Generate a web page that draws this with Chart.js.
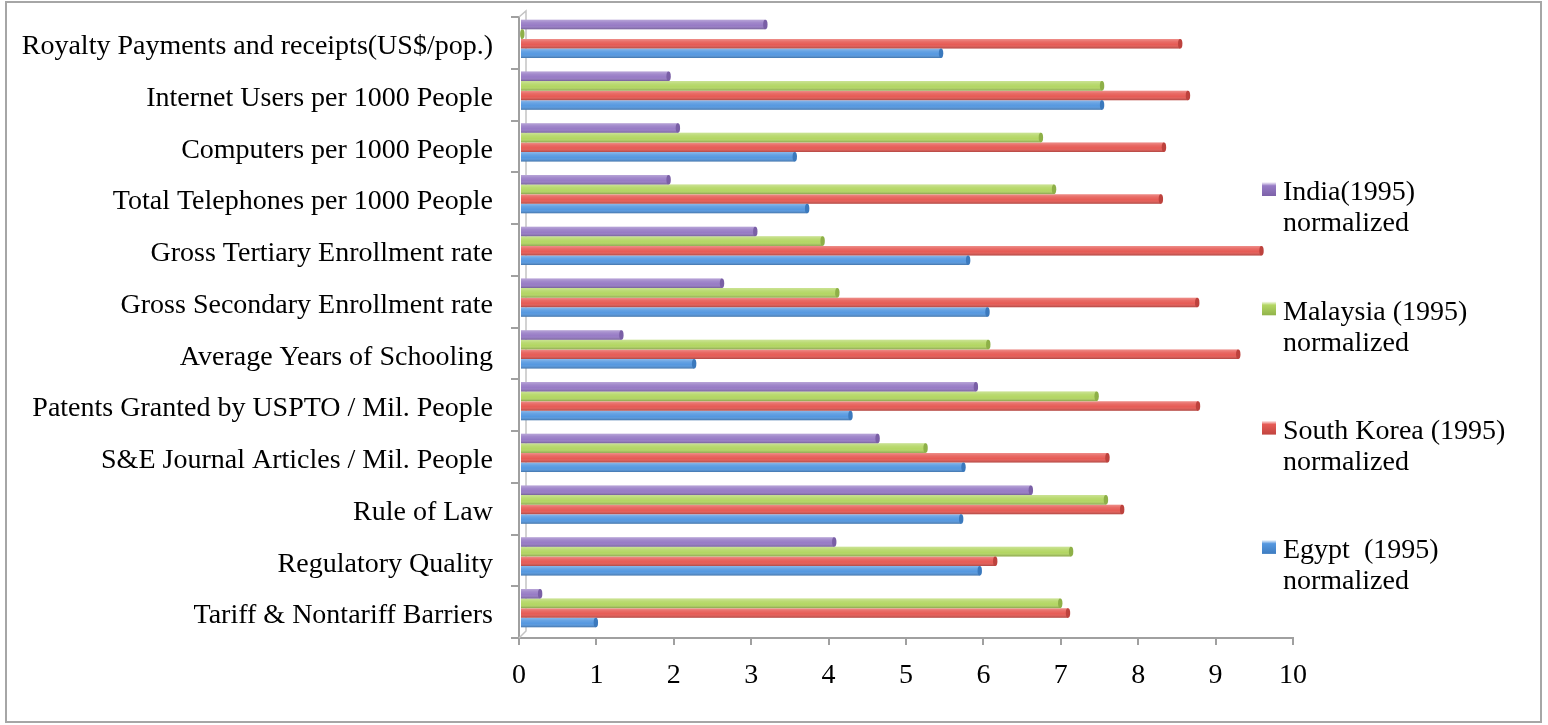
<!DOCTYPE html>
<html>
<head>
<meta charset="utf-8">
<script src="https://cdn.jsdelivr.net/npm/chart.js@4.4.1/dist/chart.umd.min.js"></script>
<style>
  html, body { margin: 0; padding: 0; background: #ffffff; }
  #wrap { position: relative; width: 1548px; height: 725px; overflow: hidden; }
  #frame { position: absolute; left: 5px; top: 1px; width: 1537px; height: 722px;
           box-sizing: border-box; border: 2px solid #a6a6a6; pointer-events: none; }
  canvas { position: absolute; left: 0; top: 0; }
</style>
</head>
<body>
<div id="wrap">
  <canvas id="c" width="1548" height="725"></canvas>
  <div id="frame"></div>
</div>
<script>
// Indicators, listed top to bottom
const indicators = [
  "Royalty Payments and receipts(US$/pop.)",
  "Internet Users per 1000 People",
  "Computers per 1000 People",
  "Total Telephones per 1000 People",
  "Gross Tertiary Enrollment rate",
  "Gross Secondary Enrollment rate",
  "Average Years of Schooling",
  "Patents Granted by USPTO / Mil. People",
  "S&E Journal Articles / Mil. People",
  "Rule of Law",
  "Regulatory Quality",
  "Tariff & Nontariff Barriers"
];

// Normalized scores (0-10), 1995
const india      = [3.17, 1.92, 2.04, 1.92, 3.04, 2.61, 1.31, 5.89, 4.62, 6.60, 4.06, 0.26];
const malaysia   = [0.03, 7.52, 6.73, 6.90, 3.91, 4.10, 6.05, 7.45, 5.24, 7.57, 7.12, 6.98];
const southKorea = [8.53, 8.63, 8.32, 8.28, 9.58, 8.75, 9.28, 8.76, 7.59, 7.78, 6.14, 7.08];
const egypt      = [5.44, 7.52, 3.55, 3.71, 5.79, 6.04, 2.25, 4.27, 5.73, 5.70, 5.94, 0.98];

const seriesNames = ["India(1995)", "Malaysia (1995)", "South Korea (1995)", "Egypt  (1995)"];
const seriesNote = "normalized";
const xTickValues = [0, 1, 2, 3, 4, 5, 6, 7, 8, 9, 10];

const FONT_FAMILY = '"Liberation Serif", "Times New Roman", serif';
const AXIS_GREY = '#a0a0a0';

const fills = ['#977bc5', '#b3d663', '#e65b55', '#5598e0'];
const caps  = ['#7a5fa6', '#8eb048', '#bd423d', '#3b79bd'];

// Cylinder-like shading over the bars, drawn slightly raised to give depth
const depthBars = {
  id: 'depthBars',
  beforeDatasetsDraw(chart) {
    chart.ctx.save();
    chart.ctx.translate(1, -4);
  },
  afterDatasetsDraw(chart) {
    const ctx = chart.ctx;
    chart.data.datasets.forEach((ds, i) => {
      const meta = chart.getDatasetMeta(i);
      meta.data.forEach(bar => {
        const p = bar.getProps(['x', 'y', 'base', 'height'], true);
        const w = p.x - p.base;
        if (w <= 0.5) return;
        const top = p.y - p.height / 2;
        const g = ctx.createLinearGradient(0, top, 0, top + p.height);
        g.addColorStop(0, 'rgba(255,255,255,0.32)');
        g.addColorStop(0.3, 'rgba(255,255,255,0.1)');
        g.addColorStop(0.6, 'rgba(255,255,255,0)');
        g.addColorStop(1, 'rgba(0,0,0,0.25)');
        ctx.fillStyle = g;
        ctx.fillRect(p.base, top, w, p.height);
        ctx.beginPath();
        ctx.ellipse(p.x, p.y, 2.2, p.height / 2, 0, 0, Math.PI * 2);
        ctx.fillStyle = caps[i];
        ctx.fill();
      });
    });
    ctx.restore();
  }
};

// Back wall edge of the value axis
const wallEdge = {
  id: 'wallEdge',
  beforeDatasetsDraw(chart) {
    const { left, top, bottom } = chart.chartArea;
    const ctx = chart.ctx;
    ctx.save();
    ctx.strokeStyle = '#c4c4c4';
    ctx.lineWidth = 1.5;
    ctx.beginPath();
    ctx.moveTo(left, top);
    ctx.lineTo(left + 7, top - 6);
    ctx.lineTo(left + 7, bottom - 7);
    ctx.lineTo(left, bottom);
    ctx.stroke();
    ctx.restore();
  }
};

// Two-line legend on the right
const sideLegend = {
  id: 'sideLegend',
  afterDraw(chart) {
    const ctx = chart.ctx;
    const x0 = chart.chartArea.right - 31;
    const y0 = 193;
    const step = 119.3;
    ctx.save();
    ctx.font = '28px ' + FONT_FAMILY;
    ctx.textBaseline = 'middle';
    ctx.textAlign = 'left';
    chart.data.datasets.forEach((ds, i) => {
      const y = y0 + i * step;
      const g = ctx.createLinearGradient(0, y - 11, 0, y + 4);
      g.addColorStop(0, '#ffffff');
      g.addColorStop(0.25, ds.backgroundColor);
      g.addColorStop(1, caps[i]);
      ctx.fillStyle = g;
      ctx.fillRect(x0, y - 11, 14, 14);
      ctx.fillStyle = '#000000';
      ctx.fillText(ds.label, x0 + 21, y);
      ctx.fillText(seriesNote, x0 + 21, y + 31);
    });
    ctx.restore();
  }
};

const seriesData = [india, malaysia, southKorea, egypt];

new Chart(document.getElementById('c'), {
  type: 'bar',
  data: {
    labels: indicators,
    datasets: seriesData.map((d, i) => ({
      label: seriesNames[i],
      data: d,
      backgroundColor: fills[i],
      borderWidth: 0,
      categoryPercentage: 0.74,
      barPercentage: 1.0,
      clip: false
    }))
  },
  options: {
    indexAxis: 'y',
    responsive: false,
    animation: false,
    devicePixelRatio: 1,
    layout: { padding: { left: 0, top: 17, right: 255, bottom: 0 } },
    plugins: {
      legend: { display: false },
      tooltip: { enabled: false }
    },
    scales: {
      x: {
        type: 'linear',
        min: 0,
        max: 10,
        afterFit(scale) {
          scale.height = 87;
          scale.paddingLeft = 0;
          scale.paddingRight = 0;
        },
        afterBuildTicks(scale) { scale.ticks = xTickValues.map(v => ({ value: v })); },
        grid: { drawOnChartArea: false, color: AXIS_GREY, lineWidth: 2, tickLength: 7 },
        border: { display: true, color: AXIS_GREY, width: 2 },
        ticks: {
          color: '#000000',
          padding: 14,
          font: { family: FONT_FAMILY, size: 28 },
          maxRotation: 0,
          callback: v => String(v)
        }
      },
      y: {
        type: 'category',
        afterFit(scale) {
          scale.width = 519;
          scale.paddingTop = 0;
          scale.paddingBottom = 0;
        },
        grid: { drawOnChartArea: false, color: AXIS_GREY, lineWidth: 2, tickLength: 8, offset: true },
        border: { display: true, color: AXIS_GREY, width: 2 },
        ticks: {
          color: '#000000',
          padding: 18,
          labelOffset: 4,
          autoSkip: false,
          font: { family: FONT_FAMILY, size: 28 }
        }
      }
    }
  },
  plugins: [wallEdge, depthBars, sideLegend]
});
</script>
</body>
</html>
